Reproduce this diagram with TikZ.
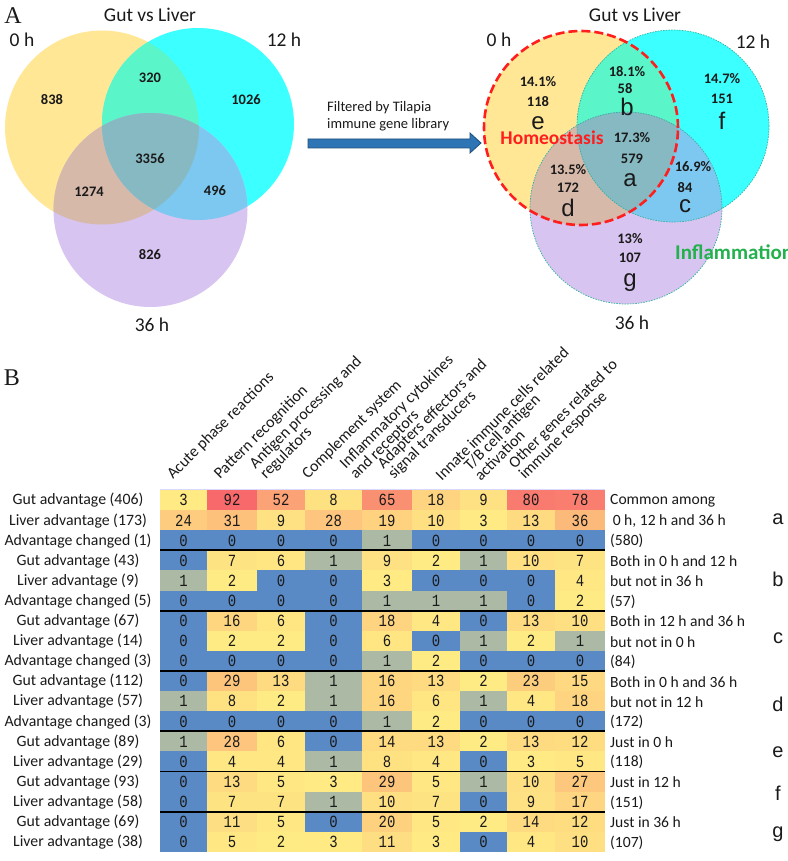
\documentclass[tikz,border=0pt]{standalone}
\usepackage{fontspec}
\setmainfont{Carlito}
\newfontfamily\monof[FakeStretch=0.82]{Liberation Mono}
\newfontfamily\arialf{Liberation Sans}
\newfontfamily\serf{Liberation Serif}
\definecolor{vY}{HTML}{FFE796}
\definecolor{vC}{HTML}{3CFFFF}
\definecolor{vL}{HTML}{D8C4F0}
\definecolor{vYC}{HTML}{5AF5C8}
\definecolor{vYL}{HTML}{D7B9AA}
\definecolor{vCL}{HTML}{7DC8F0}
\definecolor{vYCL}{HTML}{87B9C3}
\definecolor{hmBlue}{HTML}{5A8AC6}
\definecolor{hmYellow}{HTML}{FFEB84}
\definecolor{hmRed}{HTML}{F8696B}
\colorlet{hmGray}{hmBlue!50!hmYellow}
\definecolor{arrowFill}{HTML}{2E75B6}
\definecolor{arrowEdge}{HTML}{1F4E79}
\definecolor{homeoRed}{HTML}{FF1E1E}
\definecolor{inflGreen}{HTML}{22B14C}
\definecolor{dotTeal}{HTML}{2EB3A0}
\definecolor{txt}{HTML}{1A1A1A}
\begin{document}
\begin{tikzpicture}[x=1pt,y=-1pt,
  every node/.style={inner sep=0pt,text=txt},
  panel/.style={font=\serf\fontsize{24}{26}\selectfont},
  vtitle/.style={font=\fontsize{19.5}{22}\selectfont},
  vnum/.style={font=\bfseries\fontsize{14.5}{16}\selectfont},
  vlet/.style={font=\arialf\fontsize{24}{26}\selectfont},
  filt/.style={font=\fontsize{14.5}{17}\selectfont,anchor=west},
  hdr/.style={font=\fontsize{16}{13.5}\selectfont,rotate=45,anchor=south west,align=left},
  rowlab/.style={font=\fontsize{15.8}{17}\selectfont},
  desc/.style={font=\fontsize{15.6}{17}\selectfont,anchor=west},
  seglet/.style={font=\arialf\fontsize{20}{22}\selectfont},
  cellnum/.style={font=\monof\fontsize{17}{18}\selectfont}]
\useasboundingbox (0,0) rectangle (787,861);
\fill[white] (0,0) rectangle (787,861);

% ---------- left Venn ----------
\def\LA{(102,127.5) circle (97pt)}
\def\LB{(198,124) circle (96pt)}
\def\LC{(150.5,210) circle (97pt)}
\fill[vY] \LA; \fill[vC] \LB; \fill[vL] \LC;
\begin{scope}\clip \LA; \fill[vYC] \LB; \end{scope}
\begin{scope}\clip \LA; \fill[vYL] \LC; \end{scope}
\begin{scope}\clip \LB; \fill[vCL] \LC; \end{scope}
\begin{scope}\clip \LA; \clip \LB; \fill[vYCL] \LC; \end{scope}

\node[panel] (pA) at (13,16) {A};
\node[vtitle] (lt) at (150,15) {Gut vs Liver};
\node[vtitle] (l0) at (22,40) {0 h};
\node[vtitle] (l12) at (284,40) {12 h};
\node[vtitle] (l36) at (152,325) {36 h};
\node[vnum] (n838) at (52,100) {838};
\node[vnum] (n320) at (150,78) {320};
\node[vnum] (n1026) at (246,100) {1026};
\node[vnum] (n3356) at (150,159) {3356};
\node[vnum] (n1274) at (89,192) {1274};
\node[vnum] (n496) at (215,191) {496};
\node[vnum] (n826) at (150,255) {826};

% ---------- arrow ----------
\node[filt] (f1) at (327,108) {Filtered by Tilapia};
\node[filt] (f2) at (327,125) {immune gene library};
\fill[arrowFill,draw=arrowEdge,line width=0.8pt]
  (308,139) -- (470,139) -- (470,133) -- (481,143) -- (470,153) -- (470,148) -- (308,148) -- cycle;

% ---------- right Venn ----------
\def\RA{(581,128) circle (97pt)}
\def\RB{(673,126) circle (96pt)}
\def\RC{(626,208) circle (96pt)}
\fill[vY] \RA; \fill[vC] \RB; \fill[vL] \RC;
\begin{scope}\clip \RA; \fill[vYC] \RB; \end{scope}
\begin{scope}\clip \RA; \fill[vYL] \RC; \end{scope}
\begin{scope}\clip \RB; \fill[vCL] \RC; \end{scope}
\begin{scope}\clip \RA; \clip \RB; \fill[vYCL] \RC; \end{scope}
\draw[dotTeal,line width=0.7pt,dash pattern=on 1.5pt off 1.2pt] \RB;
\draw[dotTeal,line width=0.7pt,dash pattern=on 1.5pt off 1.2pt] \RC;
\draw[homeoRed,line width=2.6pt,dash pattern=on 9pt off 4pt] \RA;

\node[vtitle] (rt) at (635,15) {Gut vs Liver};
\node[vtitle] (r0) at (499,40) {0 h};
\node[vtitle] (r12) at (753,42) {12 h};
\node[vtitle] (r36) at (632,323) {36 h};

\node[vnum] (pe) at (538,82) {14.1\%};
\node[vnum] (ne) at (538,102) {118};
\node[vlet] (le) at (538,123) {e};
\node[vnum] (pb) at (627,72) {18.1\%};
\node[vnum] (nb) at (625,89) {58};
\node[vlet] (lb) at (627,107) {b};
\node[vnum] (pf) at (722,79) {14.7\%};
\node[vnum] (nf) at (722,99) {151};
\node[vlet] (lf) at (722,121) {f};
\node[vnum] (pa) at (632,138) {17.3\%};
\node[vnum] (na) at (632,159) {579};
\node[vlet] (la) at (630,180) {a};
\node[vnum] (pd) at (568,170) {13.5\%};
\node[vnum] (nd) at (568,188) {172};
\node[vlet] (ld) at (568,208) {d};
\node[vnum] (pc) at (693,167) {16.9\%};
\node[vnum] (nc) at (685,188) {84};
\node[vlet] (lc) at (685,206) {c};
\node[vnum] (pg) at (630,239) {13\%};
\node[vnum] (ng) at (630,258) {107};
\node[vlet] (lg) at (630,283) {g};
\node[font=\bfseries\fontsize{19.5}{22}\selectfont,text=homeoRed] (homeo) at (552,138) {Homeostasis};
\node[font=\bfseries\fontsize{21}{23}\selectfont,text=inflGreen,anchor=west] (infl) at (675,252) {Inflammation};

% ---------- panel B ----------
\node[panel] (pB) at (12,378) {B};

\foreach \hx/\htxt [count=\k] in {175/{Acute phase reactions},222/{Pattern recognition},268/{Antigen processing and\\regulators},310/{Complement system},358/{Inflammatory cytokines\\and receptors},396/{Adapters effectors and\\signal transducers},442/{Innate immune cells related},481/{T/B cell antigen\\activation},527/{Other genes related to\\immune response}}
  \node[hdr] (h\k) at (\hx,482) {\htxt};

\draw[blue!15,line width=0.8pt] (160,489) -- (605,489);

\foreach \rowvals [count=\i] in {{3,92,52,8,65,18,9,80,78},{24,31,9,28,19,10,3,13,36},{0,0,0,0,1,0,0,0,0},{0,7,6,1,9,2,1,10,7},{1,2,0,0,3,0,0,0,4},{0,0,0,0,1,1,1,0,2},{0,16,6,0,18,4,0,13,10},{0,2,2,0,6,0,1,2,1},{0,0,0,0,1,2,0,0,0},{0,29,13,1,16,13,2,23,15},{1,8,2,1,16,6,1,4,18},{0,0,0,0,1,2,0,0,0},{1,28,6,0,14,13,2,13,12},{0,4,4,1,8,4,0,3,5},{0,13,5,3,29,5,1,10,27},{0,7,7,1,10,7,0,9,17},{0,11,5,0,20,5,2,14,12},{0,5,2,3,11,3,0,4,10}} {
  \pgfmathsetmacro\yt{490+20.1*(\i-1)}
  \pgfmathsetmacro\yb{\yt+20.1}
  \pgfmathsetmacro\yc{\yt+10.3}
  \foreach \v [count=\j] in \rowvals {
    \pgfmathsetmacro\xl{{160,207,257,305,362,412,460,507,555,605}[\j-1]}
    \pgfmathsetmacro\xr{{160,207,257,305,362,412,460,507,555,605}[\j]}
    \ifnum\v=0 \colorlet{cc}{hmBlue}\else\ifnum\v=1 \colorlet{cc}{hmGray}\else
      \pgfmathtruncatemacro\tval{round((\v-2)/0.9)}\colorlet{cc}{hmRed!\tval!hmYellow}\fi\fi
    \fill[cc] (\xl,\yt) rectangle (\xr,\yb);
    \node[cellnum] (c-\i-\j) at ({(\xl+\xr)/2},\yc) {\v};
  }
}

\foreach \k in {3,6,9,12,14,16} {
  \pgfmathsetmacro\ys{490+20.1*\k}
  \draw[black,line width=1.8pt] (160,\ys) -- (605,\ys);
}

\foreach \t [count=\i] in {Gut advantage (406),Liver advantage (173),Advantage changed (1),Gut advantage (43),Liver advantage (9),Advantage changed (5),Gut advantage (67),Liver advantage (14),Advantage changed (3),Gut advantage (112),Liver advantage (57),Advantage changed (3),Gut advantage (89),Liver advantage (29),Gut advantage (93),Liver advantage (58),Gut advantage (69),Liver advantage (38)}
  \node[rowlab] (rl\i) at (78,{500.5+20.1*(\i-1)}) {\t};

\foreach \r/\t [count=\k] in {1/{Common among},2/{\,0 h, 12 h and 36 h},3/{(580)},4/{Both in 0 h and 12 h},5/{but not in 36 h},6/{(57)},7/{Both in 12 h and 36 h},8/{but not in 0 h},9/{(84)},10/{Both in 0 h and 36 h},11/{but not in 12 h},12/{(172)},13/{Just in 0 h},14/{(118)},15/{Just in 12 h},16/{(151)},17/{Just in 36 h},18/{(107)}}
  \node[desc] (d\k) at (610,{501+20.1*(\r-1)}) {\t};

\foreach \y/\t in {519/a,579/b,638/c,704/d,752/e,793/f,834/g}
  \node[seglet] (s\t) at (778,\y) {\t};
\end{tikzpicture}
\end{document}
